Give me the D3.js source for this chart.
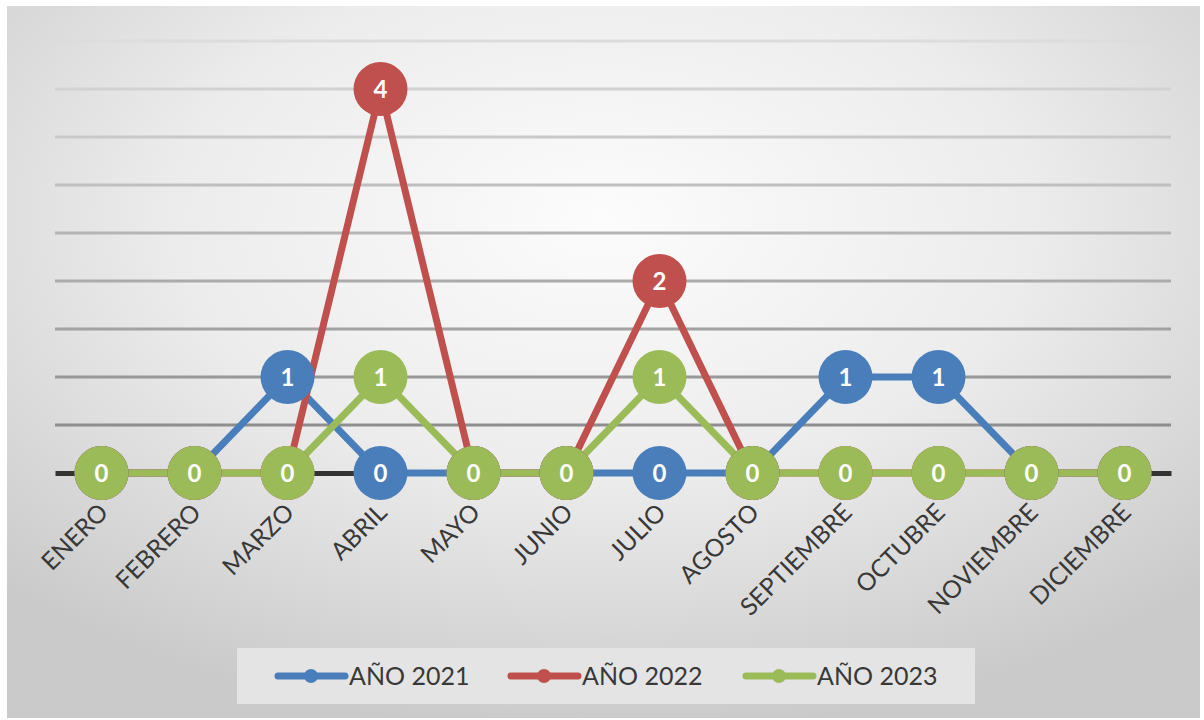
<!DOCTYPE html>
<html>
<head>
<meta charset="utf-8">
<script src="https://cdn.jsdelivr.net/npm/d3@7"></script>
<style>
  body { margin: 0; background: #fff; }
  text { font-family: Lato, "Open Sans", sans-serif; }
</style>
</head>
<body>
<svg id="chart" width="1204" height="720"></svg>
<script>
// months on the x axis
let months = ["ENERO", "FEBRERO", "MARZO", "ABRIL", "MAYO", "JUNIO", "JULIO",
    "AGOSTO", "SEPTIEMBRE", "OCTUBRE", "NOVIEMBRE", "DICIEMBRE"];
let seriesNames = ["AÑO 2021", "AÑO 2022", "AÑO 2023"];
let values2021 = [0, 0, 1, 0, 0, 0, 0, 0, 1, 1, 0, 0];
let values2022 = [0, 0, 0, 4, 0, 0, 2, 0, 0, 0, 0, 0];
let values2023 = [0, 0, 0, 1, 0, 0, 1, 0, 0, 0, 0, 0];
let gridTicks = [0.5, 1, 1.5, 2, 2.5, 3, 3.5, 4, 4.5];

let colors = ["#4a7ebb", "#c0504d", "#9bbb59"];

let series = [values2021, values2022, values2023].map(function (v, i) {
    return {name: seriesNames[i], color: colors[i], values: v};
});

let svg = d3.select("#chart");
let defs = svg.append("defs");

let bg = defs.append("radialGradient")
    .attr("id", "bg")
    .attr("cx", "0.5").attr("cy", "0.3")
    .attr("r", "0.72");
bg.append("stop").attr("offset", "0%").attr("stop-color", "#fcfcfc");
bg.append("stop").attr("offset", "50%").attr("stop-color", "#ececec");
bg.append("stop").attr("offset", "100%").attr("stop-color", "#cacaca");

svg.append("rect")
    .attr("x", 7).attr("y", 6)
    .attr("width", 1193).attr("height", 712)
    .style("fill", "url(#bg)");

let xScale = d3.scaleBand()
    .domain(months)
    .range([55, 1171]);

let yScale = d3.scaleLinear()
    .domain([0, 4.5])
    .range([473, 41]);

function cx(d) { return xScale(d) + xScale.bandwidth() / 2; }

let gridColor = d3.scaleLinear()
    .domain([0.5, 4.5])
    .range(["#8e8e8e", "#dcdcdc"]);

// gridlines
svg.append("g").selectAll("line")
    .data(gridTicks)
    .enter().append("line")
    .attr("x1", 55).attr("x2", 1171)
    .attr("y1", function (d) { return yScale(d); })
    .attr("y2", function (d) { return yScale(d); })
    .style("stroke", function (d) { return gridColor(d); })
    .style("stroke-width", 3);

// baseline axis
let xAxis = d3.axisBottom(xScale).tickSize(0).tickFormat("");
let axisG = svg.append("g")
    .attr("transform", "translate(0," + yScale(0) + ")")
    .call(xAxis);
axisG.select(".domain")
    .style("stroke", "#333")
    .style("stroke-width", 5);

// month labels
svg.append("g").selectAll("text")
    .data(months)
    .enter().append("text")
    .attr("transform", function (d) {
        return "translate(" + (cx(d) + 8) + ",514) rotate(-45)";
    })
    .attr("text-anchor", "end")
    .style("font-size", "24.5px")
    .style("fill", "#383838")
    .text(function (d) { return d; });

let line = d3.line()
    .x(function (d, i) { return cx(months[i]); })
    .y(function (d) { return yScale(d); });

// lines first
svg.append("g").selectAll("path")
    .data(series)
    .enter().append("path")
    .attr("d", function (s) { return line(s.values); })
    .style("fill", "none")
    .style("stroke", function (s) { return s.color; })
    .style("stroke-width", 7)
    .style("stroke-linejoin", "round");

// markers and labels
series.forEach(function (s) {
    let g = svg.append("g");
    g.selectAll("circle")
        .data(s.values)
        .enter().append("circle")
        .attr("cx", function (d, i) { return cx(months[i]); })
        .attr("cy", function (d) { return yScale(d); })
        .attr("r", 27)
        .style("fill", s.color);
    g.selectAll("text")
        .data(s.values)
        .enter().append("text")
        .attr("x", function (d, i) { return cx(months[i]); })
        .attr("y", function (d) { return yScale(d); })
        .attr("dy", "0.36em")
        .attr("text-anchor", "middle")
        .style("font-size", "24px")
        .style("font-weight", "bold")
        .style("fill", "#fff")
        .text(function (d) { return d; });
});

// legend
svg.append("rect")
    .attr("x", 237).attr("y", 648)
    .attr("width", 738).attr("height", 56)
    .style("fill", "#e4e4e4");

let legendX = [278, 511, 746];
let legend = svg.append("g").selectAll("g")
    .data(series)
    .enter().append("g")
    .attr("transform", function (d, i) { return "translate(" + legendX[i] + ",676)"; });

legend.append("line")
    .attr("x1", 0).attr("x2", 67)
    .style("stroke", function (d) { return d.color; })
    .style("stroke-width", 7)
    .style("stroke-linecap", "round");

legend.append("circle")
    .attr("cx", 33).attr("r", 7)
    .style("fill", function (d) { return d.color; });

legend.append("text")
    .attr("x", 71)
    .attr("dy", "0.36em")
    .style("font-size", "25px")
    .style("fill", "#383838")
    .text(function (d) { return d.name; });
</script>
</body>
</html>
